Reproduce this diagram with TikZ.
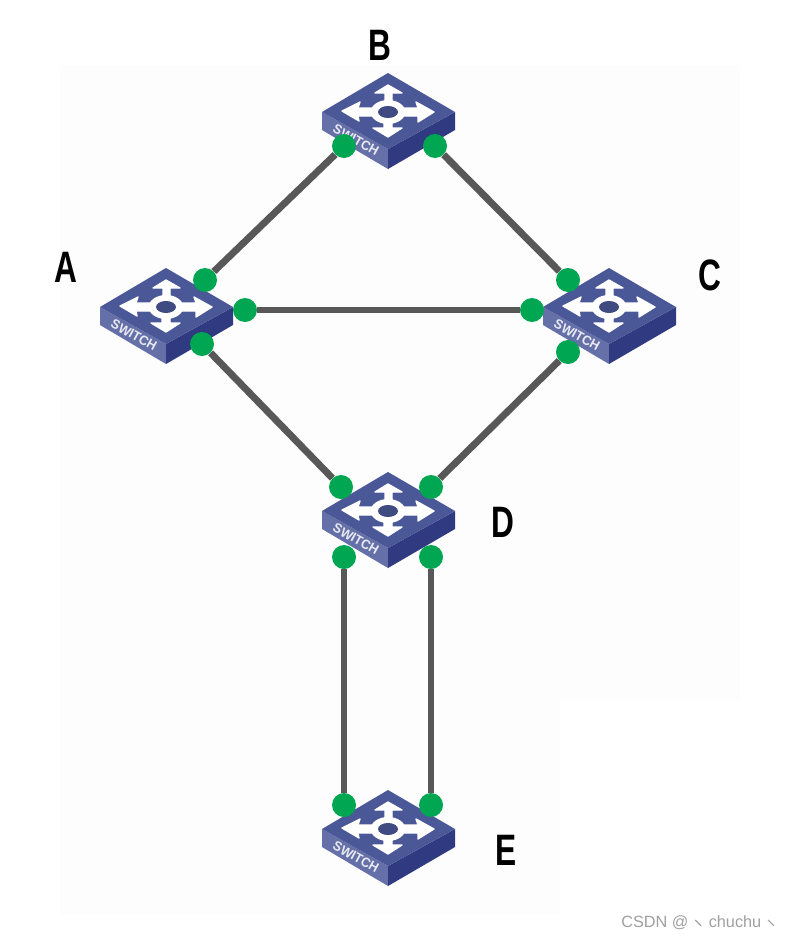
\documentclass[tikz,border=0pt]{standalone}
\usepackage{fontspec}
\setmainfont{Liberation Sans}
\definecolor{swtop}{HTML}{4B5898}
\definecolor{swleft}{HTML}{6570A8}
\definecolor{swright}{HTML}{2F3A80}
\definecolor{portgreen}{HTML}{00A651}
\definecolor{linkgray}{HTML}{585858}
\definecolor{wm}{HTML}{A0A0A0}
\definecolor{faint}{HTML}{FDFDFD}
\tikzset{
  x=0.75pt,y=-0.75pt,
  port/.style={circle,fill=portgreen,inner sep=0pt,minimum size=18pt},
  link/.style={draw=linkgray,line width=5.2pt},
  letter/.style={font=\bfseries\fontsize{33pt}{33pt}\selectfont,xscale=0.72,inner sep=0pt,text=black},
  pics/switch/.style={code={
    \fill[swleft] (-66,0) -- (0,37) -- (0,57) -- (-66,18) -- cycle;
    \fill[swright] (67,0) -- (0,37) -- (0,57) -- (67,18) -- cycle;
    \fill[swtop] (0,-39) -- (67,0) -- (0,37) -- (-66,0) -- cycle;
    \filldraw[white,line width=1pt,line join=round]
      (-3,-11) -- (-3,-19) -- (-13,-19) -- (0,-27) -- (14,-19) -- (4,-19) -- (4,-11) --
      (14,-4) -- (30,-4) -- (28,-10) -- (46,0) -- (30,10) -- (30,4) -- (14,4) --
      (4,11) -- (4,16) -- (14,16) -- (0,25) -- (-15,16) -- (-4,16) -- (-4,11) --
      (-15,4) -- (-30,4) -- (-29,9) -- (-46,-1) -- (-28,-10) -- (-30,-4) -- (-15,-4) -- cycle;
    \fill[white] (0,0) ellipse [x radius=13pt,y radius=9pt];
    \fill[swtop!85!black] (0,0) ellipse [x radius=7.5pt,y radius=4.5pt];
    \node[text=white!85!swleft,inner sep=0pt,font=\bfseries\fontsize{10pt}{10pt}\selectfont,rotate=-29,xscale=0.95] (-label) at (-32,28) {SWITCH};
  }}
}
\begin{document}
\begin{tikzpicture}
\useasboundingbox (0,0) rectangle (788,939);
\fill[white] (0,0) rectangle (788,939);
\fill[faint] (60,65) rectangle (740,700);
\fill[faint] (60,700) rectangle (560,915);

\pic (swA) at (166,307) {switch};
\pic (swB) at (388,112) {switch};
\pic (swC) at (609,307) {switch};
\pic (swD) at (388,511) {switch};
\pic (swE) at (388,829) {switch};

\node[port] (ab) at (205,280) {};
\node[port] (ac) at (245,310) {};
\node[port] (ad) at (202,344) {};
\node[port] (ba) at (344,146) {};
\node[port] (bc) at (435,146) {};
\node[port] (cb) at (568,280) {};
\node[port] (ca) at (532,310) {};
\node[port] (cd) at (568,352) {};
\node[port] (da) at (341,487) {};
\node[port] (dc) at (431,487) {};
\node[port] (de1) at (344,557) {};
\node[port] (de2) at (431,557) {};
\node[port] (ed1) at (344,805) {};
\node[port] (ed2) at (431,805) {};

\draw[link] (ab) -- (ba);
\draw[link] (bc) -- (cb);
\draw[link] (ac) -- (ca);
\draw[link] (ad) -- (da);
\draw[link] (cd) -- (dc);
\draw[link] (de1) -- (ed1);
\draw[link] (de2) -- (ed2);

\node[letter] (lA) at (66,267) {A};
\node[letter] (lB) at (380,45) {B};
\node[letter] (lC) at (710,275) {C};
\node[letter] (lD) at (503,522) {D};
\node[letter] (lE) at (506,850) {E};
\node[inner sep=0pt,text=wm,font=\fontsize{12.2pt}{12.2pt}\selectfont,anchor=west] (wmark) at (621,923) {CSDN @\hspace{0.4em}\raisebox{0.45em}{\rotatebox{-45}{\rule{0.5em}{0.07em}}}\hspace{0.45em}chuchu\hspace{0.4em}\raisebox{0.45em}{\rotatebox{-45}{\rule{0.5em}{0.07em}}}};
\end{tikzpicture}
\end{document}
